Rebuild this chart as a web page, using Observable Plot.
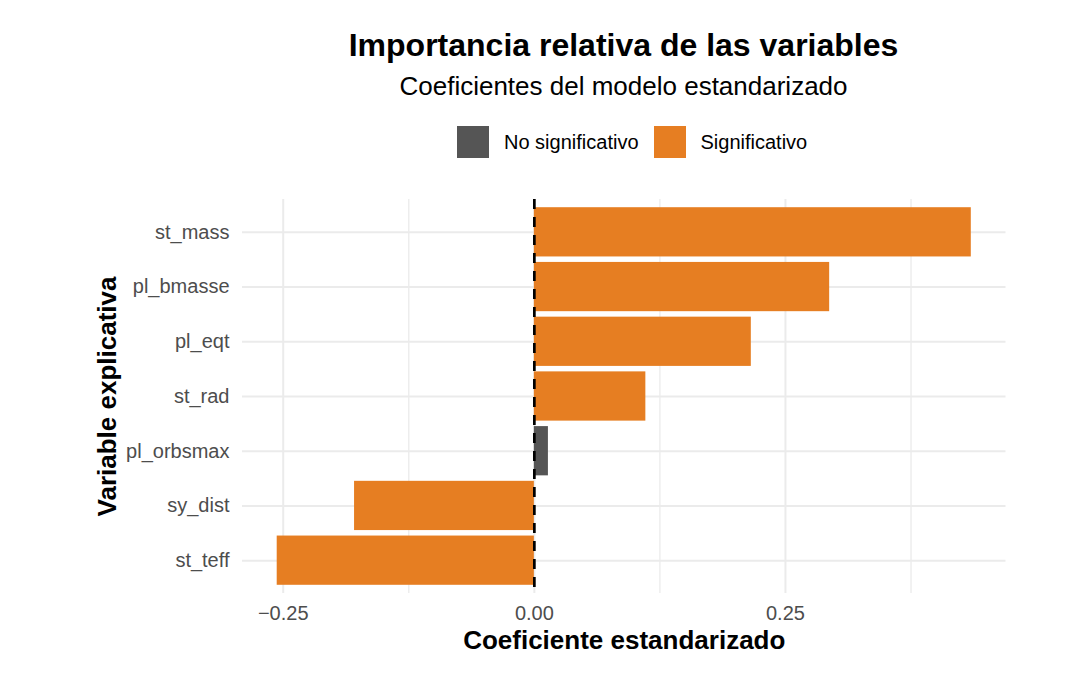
<!DOCTYPE html>
<html>
<head>
<meta charset="utf-8">
<script src="https://cdn.jsdelivr.net/npm/d3@7"></script>
<script src="https://cdn.jsdelivr.net/npm/@observablehq/plot@0.6"></script>
<style>
  body { margin: 0; background: #fff; font-family: "Liberation Sans", Arial, Helvetica, sans-serif; }
  #page { position: relative; width: 1078px; height: 673px; overflow: hidden; }
  #header { position: relative; width: 1078px; height: 175px; }
  .title, .subtitle { position: absolute; left: 242px; width: 763px; text-align: center; line-height: 1; white-space: nowrap; color: #000; }
  .title { top: 29px; font-size: 32px; font-weight: bold; }
  .subtitle { top: 73px; font-size: 26px; }
  #legend { position: absolute; left: 457px; top: 126px; height: 32px; display: flex; align-items: center; }
  .swatch { width: 32px; height: 32px; margin-right: 15px; }
  .key { font-size: 20px; line-height: 1; color: #000; margin-right: 15px; white-space: nowrap; }
  #chart svg g[aria-label="x-axis label"] text,
  #chart svg g[aria-label="y-axis label"] text { font-size: 26px; font-weight: bold; fill: #000; }
</style>
</head>
<body>
<div id="page">
  <div id="header">
    <div class="title">Importancia relativa de las variables</div>
    <div class="subtitle">Coeficientes del modelo estandarizado</div>
    <div id="legend"></div>
  </div>
  <div id="chart"></div>
</div>
<script>
// Standardised coefficients of the model, one per explanatory variable (top to bottom)
const variables = ["st_mass", "pl_bmasse", "pl_eqt", "st_rad", "pl_orbsmax", "sy_dist", "st_teff"];
const coefs = [0.435, 0.294, 0.216, 0.111, 0.014, -0.179, -0.256];
const significance = ["Significativo", "Significativo", "Significativo", "Significativo",
                      "No significativo", "Significativo", "Significativo"];

// Significance levels and their fills
const sigLevels = ["No significativo", "Significativo"];
const sigColors = ["#555555", "#E67E22"];

// Axis ticks and labels
const majorTicks = [-0.25, 0, 0.25];
const minorTicks = [-0.125, 0.125, 0.375];
const xTitle = "Coeficiente estandarizado";
const yTitle = "Variable explicativa";

const rows = variables.map((v, i) => ({variable: v, coef: coefs[i], sig: significance[i]}));

// Continuous axis padded by 5% of the data range on each side
const [lo, hi] = d3.extent(coefs);
const pad = (hi - lo) * 0.05;
const xDomain = [lo - pad, hi + pad];

// Legend
const legend = d3.select("#legend");
sigLevels.forEach((lvl, i) => {
  legend.append("div").attr("class", "swatch").style("background", sigColors[i]);
  legend.append("div").attr("class", "key").text(lvl);
});

const fmt = d3.format(".2f");

const chart = Plot.plot({
  width: 1078,
  height: 498,
  marginTop: 24,
  marginBottom: 80,
  marginLeft: 242,
  marginRight: 72.5,
  style: {
    fontFamily: "'Liberation Sans', Arial, Helvetica, sans-serif",
    fontSize: "20px",
    color: "#4d4d4d",
    background: "white",
    overflow: "visible"
  },
  x: {domain: xDomain},
  y: {domain: variables, paddingInner: 0.1, paddingOuter: 0.15, round: false},
  color: {domain: sigLevels, range: sigColors},
  marks: [
    Plot.gridX(minorTicks, {stroke: "#ebebeb", strokeOpacity: 1, strokeWidth: 1.3}),
    Plot.gridX(majorTicks, {stroke: "#ebebeb", strokeOpacity: 1, strokeWidth: 2}),
    Plot.gridY(variables, {stroke: "#ebebeb", strokeOpacity: 1, strokeWidth: 2}),
    Plot.barX(rows, {x: "coef", y: "variable", fill: "sig"}),
    Plot.ruleX([0], {stroke: "#000", strokeWidth: 2.7, strokeDasharray: "10,8"}),
    Plot.axisX(majorTicks, {
      tickSize: 0, tickPadding: 12, tickFormat: fmt, fill: "#4d4d4d",
      label: xTitle, labelAnchor: "center", labelArrow: "none", labelOffset: 55
    }),
    Plot.axisY({
      tickSize: 0, tickPadding: 13, fill: "#4d4d4d",
      label: yTitle, labelAnchor: "center", labelArrow: "none", labelOffset: 145
    })
  ]
});
document.getElementById("chart").appendChild(chart);
</script>
</body>
</html>
